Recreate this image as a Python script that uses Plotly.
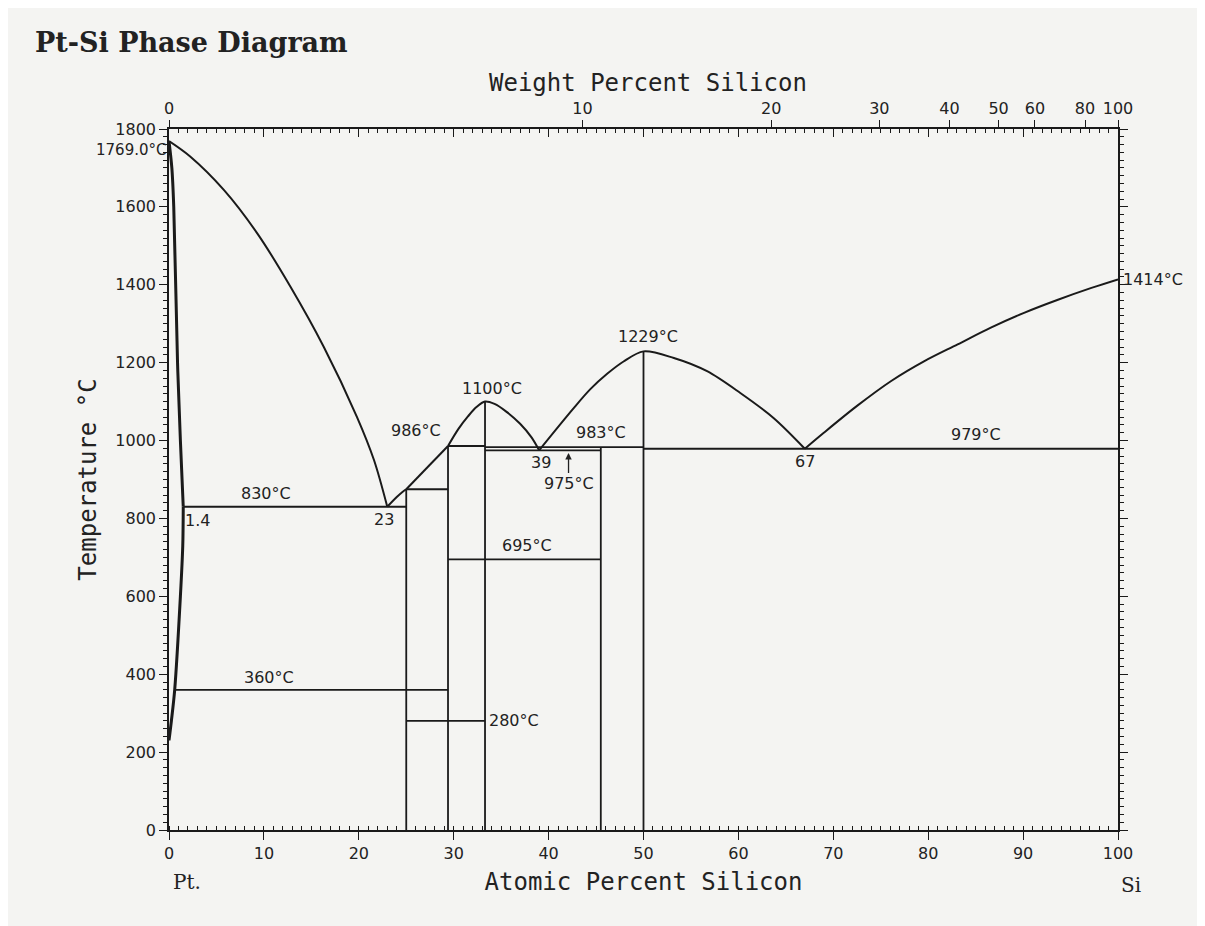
import plotly.graph_objects as go

# ---------------- data (atomic % Si, temperature in °C) ----------------
liq_pt_x = [0, 2.2, 5.8, 9.3, 12.8, 16.3, 19.8, 21.6, 23]
liq_pt_t = [1769, 1730, 1643, 1532, 1395, 1241, 1061, 950, 830]

liq_a_x = [23, 24.0, 24.6, 25]
liq_a_t = [830, 855, 868, 875]

liq_b_x = [25, 29.4]
liq_b_t = [875, 986]

dome1_x = [29.4, 30.5, 31.5, 32.4, 33.3, 34.3, 35.5, 37.0, 38.2, 39]
dome1_t = [986, 1030, 1062, 1086, 1100, 1094, 1075, 1043, 1008, 975]

dome2_x = [39, 42.6, 44.4, 46.2, 47.9, 50, 53.2, 56.7, 60.2, 63.7, 67]
dome2_t = [975, 1082, 1132, 1172, 1203, 1229, 1212, 1178, 1122, 1058, 979]

liq_si_x = [67, 69.0, 72.5, 76.1, 79.6, 83.1, 86.6, 90.1, 93.6, 97.2, 100]
liq_si_t = [979, 1020, 1089, 1153, 1204, 1247, 1290, 1328, 1361, 1392, 1414]

solidus_x = [0, 0.3, 0.5, 0.9, 1.2, 1.5]
solidus_t = [1769, 1700, 1600, 1200, 1000, 830]

solvus_x = [1.5, 1.45, 1.2, 0.6, 0.25, 0]
solvus_t = [830, 730, 600, 360, 280, 230]

# compounds: composition and top temperature of the vertical line
comp_x = [25, 29.4, 33.3, 45.5, 50]
comp_top = [875, 986, 1100, 983, 1229]

# invariant horizontals: (start x, end x, temperature)
inv_x0 = [1.5, 25, 29.4, 33.3, 33.3, 50, 29.4, 0.6, 25]
inv_x1 = [25, 29.4, 33.3, 45.5, 50, 100, 45.5, 29.4, 33.3]
inv_t = [830, 875, 986, 975, 983, 979, 695, 360, 280]

# weight-percent ticks on top axis
wt_ticks = [0, 10, 20, 30, 40, 50, 60, 80, 100]
M_SI, M_PT = 28.086, 195.08


def wt_to_at(w):
    if w >= 100:
        return 100.0
    a = w / M_SI
    b = (100 - w) / M_PT
    return 100 * a / (a + b)


wt_pos = [wt_to_at(w) for w in wt_ticks]

# ---------------- figure ----------------
fig = go.Figure()
LC = "#1a1a1a"


def add_line(xs, ys, w=1.8, smooth=False):
    line = dict(color=LC, width=w)
    if smooth:
        line.update(shape="spline", smoothing=0.9)
    fig.add_trace(go.Scatter(x=xs, y=ys, mode="lines", line=line,
                             showlegend=False, hoverinfo="skip"))


for xs, ys in [(liq_pt_x, liq_pt_t), (liq_a_x, liq_a_t),
               (dome1_x, dome1_t), (dome2_x, dome2_t), (liq_si_x, liq_si_t)]:
    add_line(xs, ys, 2, smooth=True)
add_line(liq_b_x, liq_b_t, 2)

add_line(solidus_x, solidus_t, 3, smooth=True)
add_line(solvus_x, solvus_t, 3, smooth=True)

for cx, ct in zip(comp_x, comp_top):
    add_line([cx, cx], [0, ct], 1.8)

for x0, x1, t in zip(inv_x0, inv_x1, inv_t):
    add_line([x0, x1], [t, t], 1.8)

# dummy traces to activate the extra axes
fig.add_trace(go.Scatter(x=[0], y=[0], xaxis="x2", mode="markers",
                         marker=dict(opacity=0), showlegend=False, hoverinfo="skip"))
fig.add_trace(go.Scatter(x=[0], y=[0], xaxis="x3", mode="markers",
                         marker=dict(opacity=0), showlegend=False, hoverinfo="skip"))
fig.add_trace(go.Scatter(x=[0], y=[0], yaxis="y2", mode="markers",
                         marker=dict(opacity=0), showlegend=False, hoverinfo="skip"))

FONT = "DejaVu Sans"
MONO = "DejaVu Sans Mono"
tickfont = dict(family=FONT, size=16, color="#222")

ann = []


def label(x, y, text, xanchor="center", yanchor="middle", size=16, xshift=0, yshift=0):
    ann.append(dict(x=x, y=y, xref="x", yref="y", text=text, showarrow=False,
                    xanchor=xanchor, yanchor=yanchor, xshift=xshift, yshift=yshift,
                    font=dict(family=FONT, size=size, color="#222")))


label(0, 1745, "1769.0°C", xanchor="right", xshift=-1, size=15)
label(100, 1414, "1414°C", xanchor="left", xshift=3)
label(50.5, 1229, "1229°C", yanchor="bottom", yshift=3)
label(34.0, 1100, "1100°C", yanchor="bottom", yshift=2)
label(26.0, 986, "986°C", yanchor="bottom", yshift=4)
label(45.5, 983, "983°C", yanchor="bottom", yshift=3)
label(39.2, 975, "39", yanchor="top", yshift=-1)
label(67.0, 979, "67", yanchor="top", yshift=-1)
label(85.0, 979, "979°C", yanchor="bottom", yshift=3)
label(10.2, 830, "830°C", yanchor="bottom", yshift=2)
label(1.5, 830, "1.4", xanchor="left", yanchor="top", yshift=-2)
label(22.7, 830, "23", yanchor="top", yshift=-1)
label(37.7, 695, "695°C", yanchor="bottom", yshift=2)
label(10.5, 360, "360°C", yanchor="bottom", yshift=1)
label(33.3, 280, "280°C", xanchor="left", xshift=2)

ann.append(dict(x=42.1, y=976, xref="x", yref="y", text="975°C", showarrow=True,
                arrowhead=2, arrowsize=1, arrowwidth=1.3, arrowcolor="#222",
                ax=0, ay=34, standoff=3,
                font=dict(family=FONT, size=16, color="#222")))

title_font = dict(family=MONO, size=24, color="#222")

# title, top axis title and end-member labels
ann.append(dict(x=-0.1433, y=1.124, xref="paper", yref="paper", xanchor="left", yanchor="middle",
                text="<b>Pt-Si Phase Diagram</b>", showarrow=False,
                font=dict(family="DejaVu Serif", size=27, color="#222")))
ann.append(dict(x=50.5, y=1.0656, xref="x", yref="paper", xanchor="center", yanchor="middle",
                text="Weight Percent Silicon", showarrow=False, font=title_font))
ann.append(dict(x=0, y=-0.074, xref="x", yref="paper", xanchor="left", yanchor="middle",
                text="Pt.", showarrow=False, xshift=2,
                font=dict(family="DejaVu Serif", size=20, color="#222")))
ann.append(dict(x=100, y=-0.078, xref="x", yref="paper", xanchor="center", yanchor="middle",
                text="Si", showarrow=False, xshift=13,
                font=dict(family="DejaVu Serif", size=20, color="#222")))

axis_common = dict(showgrid=False, zeroline=False, showline=True,
                   linecolor=LC, linewidth=1.5, tickcolor=LC, tickwidth=1.3)

fig.update_layout(
    width=1205, height=926,
    margin=dict(l=161, r=95, t=121, b=104),
    paper_bgcolor="#f4f4f2", plot_bgcolor="#f4f4f2",
    showlegend=False,
    annotations=ann,
    xaxis=dict(range=[0, 100], dtick=10, tick0=0, ticks="outside", ticklen=8,
               tickfont=tickfont,
               minor=dict(dtick=1, ticks="inside", ticklen=4, tickcolor=LC, tickwidth=1),
               title=dict(text="Atomic Percent Silicon", standoff=11, font=title_font),
               **axis_common),
    xaxis3=dict(range=[0, 100], overlaying="x", side="top", anchor="y",
                dtick=10, tick0=0, ticks="inside", ticklen=8, showticklabels=False,
                minor=dict(dtick=1, ticks="inside", ticklen=4, tickcolor=LC, tickwidth=1),
                **axis_common),
    xaxis2=dict(range=[0, 100], overlaying="x", side="top", anchor="y",
                tickmode="array", tickvals=wt_pos, ticktext=[str(w) for w in wt_ticks],
                ticks="outside", ticklen=7, tickfont=tickfont,
                **axis_common),
    yaxis=dict(range=[0, 1800], dtick=200, tick0=0, ticks="outside", ticklen=8,
               tickfont=tickfont,
               minor=dict(dtick=20, ticks="outside", ticklen=4, tickcolor=LC, tickwidth=1),
               title=dict(text="Temperature °C", standoff=12, font=title_font),
               **axis_common),
    yaxis2=dict(range=[0, 1800], overlaying="y", side="right", anchor="x",
                dtick=200, tick0=0, ticks="outside", ticklen=8, showticklabels=False,
                minor=dict(dtick=20, ticks="outside", ticklen=4, tickcolor=LC, tickwidth=1),
                **axis_common),
)

fig.write_html("out.html")
